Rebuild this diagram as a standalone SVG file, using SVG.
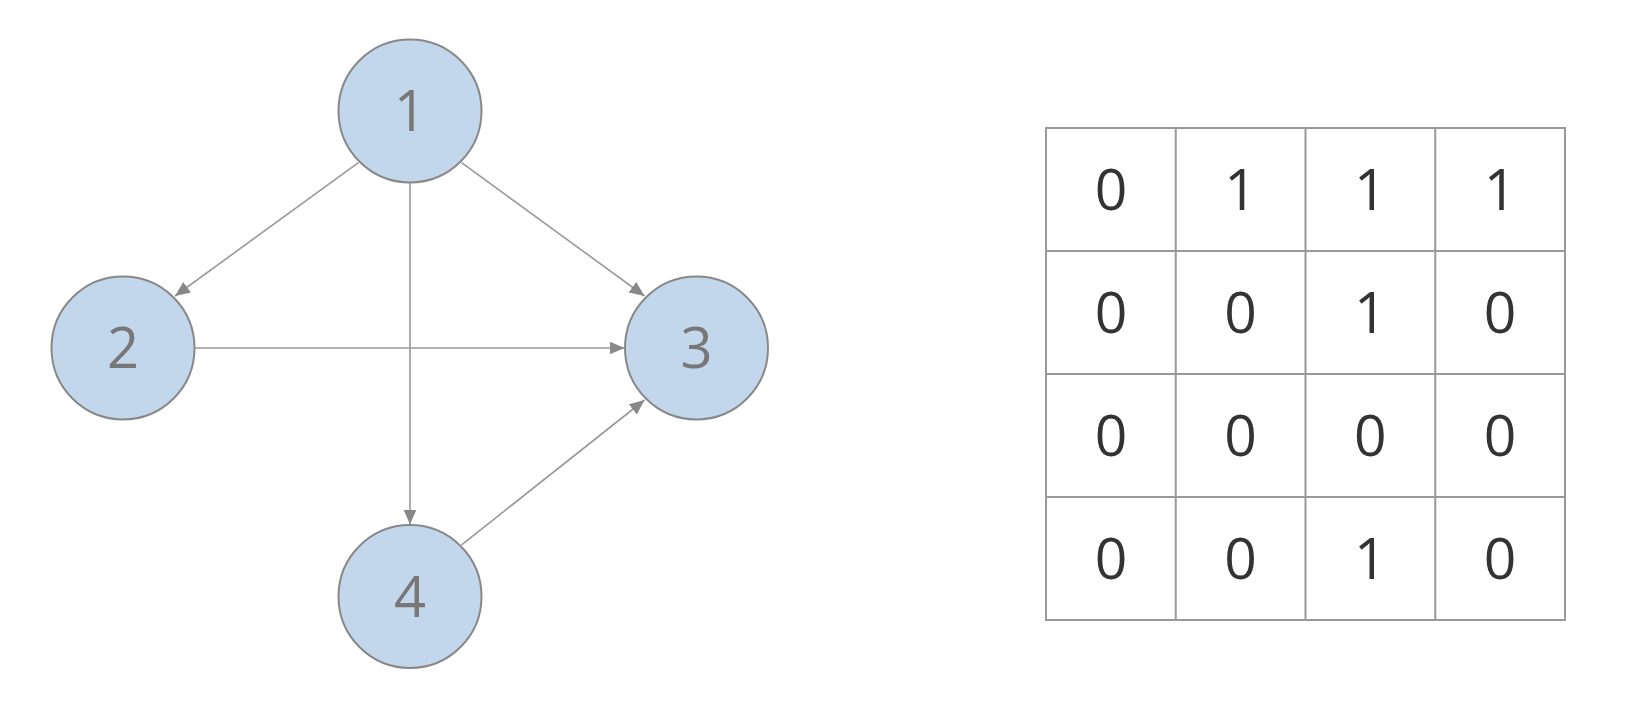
<svg xmlns="http://www.w3.org/2000/svg" width="1642" height="714" viewBox="0 0 1642 714">
<style>
.node circle{fill:#c3d7ec;stroke:#888;stroke-width:2}
.node text{font-family:"Open Sans","Noto Sans",sans-serif;font-size:56px;fill:#777;text-anchor:middle}
.edge{stroke:#999;stroke-width:1.6;fill:none;marker-end:url(#arr)}
.grid{stroke:#999;stroke-width:2;fill:none}
.cell{font-family:"Open Sans","Noto Sans",sans-serif;font-size:57px;fill:#333;text-anchor:middle}
</style>
<defs>
<marker id="arr" markerUnits="userSpaceOnUse" markerWidth="16" markerHeight="14" refX="15" refY="6.5" orient="auto">
<path d="M0,0 L15,6.5 L0,13 z" fill="#888"/>
</marker>
</defs>
<rect width="1642" height="714" fill="#fff"/>
<g id="connectors">
<line class="edge" x1="358.4" y1="162.6" x2="175" y2="296"/>
<line class="edge" x1="461.6" y1="162.6" x2="644.5" y2="296"/>
<line class="edge" x1="410" y1="183" x2="410" y2="524.5"/>
<line class="edge" x1="195" y1="348" x2="624.5" y2="348"/>
<line class="edge" x1="461.6" y1="544.9" x2="644.5" y2="400"/>
</g>
<g id="node1" class="node"><circle cx="410" cy="111" r="71.5"/><text x="410" y="131">1</text></g>
<g id="node2" class="node"><circle cx="123" cy="348" r="71.5"/><text x="123" y="368">2</text></g>
<g id="node3" class="node"><circle cx="696.5" cy="348" r="71.5"/><text x="696.5" y="368">3</text></g>
<g id="node4" class="node"><circle cx="410" cy="596.5" r="71.5"/><text x="410" y="616.5">4</text></g>
<g id="matrix">
<rect class="grid" x="1046" y="128" width="519" height="492"/>
<path class="grid" d="M1175.75,128V620M1305.5,128V620M1435.25,128V620M1046,251H1565M1046,374H1565M1046,497H1565"/>
<g class="cell">
<text x="1111" y="210">0</text><text x="1240.6" y="210">1</text><text x="1370.4" y="210">1</text><text x="1500.1" y="210">1</text>
<text x="1111" y="333">0</text><text x="1240.6" y="333">0</text><text x="1370.4" y="333">1</text><text x="1500.1" y="333">0</text>
<text x="1111" y="456">0</text><text x="1240.6" y="456">0</text><text x="1370.4" y="456">0</text><text x="1500.1" y="456">0</text>
<text x="1111" y="579">0</text><text x="1240.6" y="579">0</text><text x="1370.4" y="579">1</text><text x="1500.1" y="579">0</text>
</g>
</g>
</svg>
